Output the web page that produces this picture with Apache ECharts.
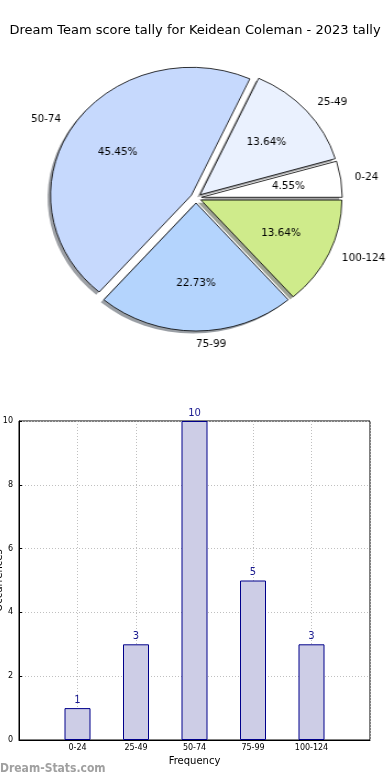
<!DOCTYPE html>
<html>
<head>
<meta charset="utf-8">
<script src="https://cdn.jsdelivr.net/npm/echarts@6/dist/echarts.min.js"></script>
<style>
html,body{margin:0;padding:0;background:#fff;}
#wrap{position:relative;width:390px;height:780px;}
#c{position:absolute;left:0;top:0;width:390px;height:780px;}
#p{position:absolute;left:0;top:0;width:390px;height:400px;transform:scaleX(1.1);transform-origin:196px 198px;}
</style>
</head>
<body>
<div id="wrap"><div id="c"></div><div id="p"></div></div>
<script>
var categories = ['0-24', '25-49', '50-74', '75-99', '100-124'];
var counts = [1, 3, 10, 5, 3];
var sliceColors = ['#ffffff', '#eaf1fe', '#c6d9fd', '#b4d4fd', '#cfeb8b'];
var yTicks = [0, 2, 4, 6, 8, 10];
var titleText = 'Dream Team score tally for Keidean Coleman - 2023 tally';

var FONT = 'DejaVu Sans';
var FONTC = '"DejaVu Sans Condensed", "DejaVu Sans"';
var R = 128;
var CX = 196, CY = 198;
var OFF = 5;
var total = counts.reduce(function(a,b){return a+b;},0);

function shade(hex) {
  var n = parseInt(hex.slice(1), 16);
  var r = Math.round(((n >> 16) & 255) * 0.3), g = Math.round(((n >> 8) & 255) * 0.3), b = Math.round((n & 255) * 0.3);
  return 'rgba(' + r + ',' + g + ',' + b + ',0.5)';
}

function pieData(extra) {
  return categories.map(function(c, i) {
    var d = { name: c, value: counts[i], selected: true };
    if (extra) Object.assign(d, extra(i));
    return d;
  });
}

function basePie(o) {
  return Object.assign({
    type: 'pie',
    center: [CX, CY], radius: [0, R],
    startAngle: 0, clockwise: false,
    selectedMode: 'multiple', selectedOffset: OFF,
    avoidLabelOverlap: false,
    label: { show: false }, labelLine: { show: false },
    emphasis: { disabled: true },
    animation: false
  }, o);
}

/* main chart: title, bar chart, watermark */
var chart = echarts.init(document.getElementById('c'), null, {renderer: 'canvas'});
chart.setOption({
  animation: false,
  backgroundColor: '#fff',
  title: {
    text: titleText, left: 'center', top: 19,
    textStyle: { fontFamily: FONT, fontSize: 13, fontWeight: 'normal', color: '#000' }
  },
  graphic: [{
    type: 'text', left: 0, top: 763,
    style: { text: 'Dream-Stats.com', fill: '#a0a0a0', font: 'bold 12px "DejaVu Sans Condensed", "DejaVu Sans"' }
  }],
  grid: {
    left: 19, right: 20, top: 421, bottom: 40, outerBoundsMode: 'none', containLabel: false,
    show: true, borderColor: '#000', borderWidth: 1, backgroundColor: 'transparent'
  },
  xAxis: {
    type: 'category', boundaryGap: false,
    data: [''].concat(categories).concat(['']),
    name: 'Frequency', nameLocation: 'middle', nameGap: 16,
    nameTextStyle: { fontFamily: FONT, fontSize: 10, color: '#000' },
    axisLine: { lineStyle: { color: '#000' } },
    axisTick: { show: false },
    axisLabel: { fontFamily: FONT, fontSize: 8, color: '#000', margin: 4, interval: 0 },
    splitLine: { show: true, lineStyle: { color: '#c0c0c0', type: [1, 2] } }
  },
  yAxis: {
    type: 'value', min: 0, max: 10, interval: 2,
    name: 'Occurrences', nameLocation: 'middle', nameGap: 15, nameRotate: 90,
    nameMoveOverlap: false,
    nameTextStyle: { fontFamily: FONT, fontSize: 10, color: '#000' },
    axisLine: { show: true, lineStyle: { color: '#000' } },
    axisTick: { show: true, inside: true, length: 3, lineStyle: { color: '#000' } },
    axisLabel: { fontFamily: FONT, fontSize: 8, color: '#000', margin: 6,
      formatter: function(v){ return yTicks.indexOf(v) >= 0 ? String(v) : ''; } },
    splitLine: { show: true, lineStyle: { color: '#c0c0c0', type: [1, 2] } }
  },
  series: [{
    type: 'bar',
    data: [null].concat(counts).concat([null]),
    barWidth: 26,
    itemStyle: { color: '#cdcde6', borderColor: '#00008b', borderWidth: 1 },
    label: { show: true, position: 'top', distance: 3, color: '#1a1a90', fontFamily: FONT, fontSize: 10 },
    z: 3
  }]
});

/* pie chart: drawn round, stretched horizontally like the reference's oval */
var pie = echarts.init(document.getElementById('p'), null, {renderer: 'canvas'});
pie.setOption({
  animation: false,
  backgroundColor: 'transparent',
  series: [
    basePie({
      silent: true,
      center: [CX - 2.7, CY + 2.6],
      itemStyle: { borderWidth: 0 },
      data: pieData(function(i){ return { itemStyle: { color: shade(sliceColors[i]) } }; }),
      z: 1
    }),
    basePie({
      itemStyle: { borderColor: '#000', borderWidth: 0.8 },
      data: pieData(function(i){ return { itemStyle: { color: sliceColors[i] } }; }),
      z: 2
    }),
    basePie({
      silent: true,
      radius: [0, R * 1.2],
      itemStyle: { color: 'rgba(0,0,0,0)', borderWidth: 0 },
      label: {
        show: true, position: 'inside', fontFamily: FONTC, fontSize: 10.5, color: '#000',
        formatter: function(p){ return (p.value / total * 100).toFixed(2) + '%'; }
      },
      data: pieData(),
      z: 4
    }),
    basePie({
      silent: true,
      itemStyle: { color: 'rgba(0,0,0,0)', borderWidth: 0 },
      label: {
        show: true, position: 'outside', fontFamily: FONTC, fontSize: 10.5, color: '#000',
        distanceToLabelLine: 0, formatter: '{b}'
      },
      labelLine: { show: false, length: R * 0.1, length2: 0 },
      labelLayout: function(p) {
        return categories[p.dataIndex] === '75-99' ? { align: 'left' } : {};
      },
      data: pieData(),
      z: 4
    })
  ]
});
</script>
</body>
</html>
